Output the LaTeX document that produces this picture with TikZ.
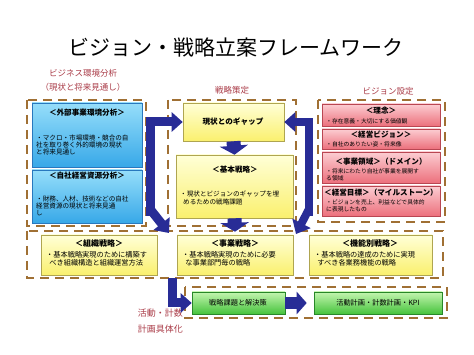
\documentclass[tikz,border=0pt]{standalone}
\usepackage{fontspec}
\setmainfont{Noto Sans CJK JP}
\usetikzlibrary{arrows.meta,calc,fit}
\definecolor{navy}{RGB}{40,44,150}
\definecolor{dashbrown}{RGB}{160,112,52}
\definecolor{lblred}{RGB}{170,60,72}
\definecolor{bluetop}{RGB}{150,222,250}
\definecolor{bluebot}{RGB}{55,168,232}
\definecolor{bluedraw}{RGB}{40,120,190}
\definecolor{pinktop}{RGB}{252,205,210}
\definecolor{pinkbot}{RGB}{236,112,124}
\definecolor{pinkdraw}{RGB}{185,70,82}
\definecolor{yeltop}{RGB}{255,255,215}
\definecolor{yelbot}{RGB}{250,240,110}
\definecolor{yeldraw}{RGB}{175,165,80}
\definecolor{grntop}{RGB}{195,245,175}
\definecolor{grnbot}{RGB}{70,195,60}
\definecolor{grndraw}{RGB}{40,135,40}
\tikzset{
  box/.style={rectangle, line width=0.6pt, inner sep=0pt},
  bluebox/.style={box, draw=bluedraw, top color=bluetop, bottom color=bluebot},
  pinkbox/.style={box, draw=pinkdraw, top color=pinktop, bottom color=pinkbot},
  yelbox/.style={box, draw=yeldraw, top color=yeltop, bottom color=yelbot},
  grnbox/.style={box, draw=grndraw, top color=grntop, bottom color=grnbot},
  ttl/.style={inner sep=0pt, font=\fontsize{7.6}{8}\selectfont\bfseries},
  bigttl/.style={inner sep=0pt, font=\fontsize{8}{8.5}\selectfont\bfseries},
  body/.style={inner sep=0pt, anchor=west, align=left, font=\fontsize{6.6}{7.1}\selectfont},
  bigbody/.style={inner sep=0pt, anchor=west, align=left, font=\fontsize{7.2}{7.5}\selectfont},
  smallbody/.style={inner sep=0pt, anchor=west, align=left, font=\fontsize{5.8}{6.5}\selectfont},
  lbl/.style={inner sep=0pt, text=lblred, font=\fontsize{8.5}{13}\selectfont},
  dbox/.style={draw=dashbrown, line width=2.4pt, dash pattern=on 9pt off 6pt},
  navyarrow/.style={draw=navy, line width=9pt, -{Triangle[width=19pt,length=11pt]}},
  fatarrow/.style={draw=navy, line width=14pt, -{Triangle[width=28pt,length=9pt]}},
}
\begin{document}
\begin{tikzpicture}[x=1pt,y=-1pt]
\useasboundingbox (0,0) rectangle (474,355);
\fill[white] (0,0) rectangle (474,355);

\node[inner sep=0pt, font=\fontsize{21}{21}\selectfont] (title) at (236,47) {ビジョン・戦略立案フレームワーク};

% section labels
\node[lbl] (lblA) at (83,73) {ビジネス環境分析};
\node[lbl] (lblB) at (83,87) {（現状と将来見通し）};
\node[lbl] (lblC) at (232,90) {戦略策定};
\node[lbl] (lblD) at (388,91) {ビジョン設定};
\node[lbl, align=right, anchor=north east, font=\fontsize{9}{16}\selectfont] (lblE) at (183,309) {活動・計数\\計画具体化};

% dashed groups
\draw[dbox] (27,100) rectangle (146,226);
\draw[dbox] (168,100) rectangle (296,226);
\draw[dbox] (318,100) rectangle (445,222);
\draw[dbox] (27,231) rectangle (443,278);
\draw[dbox] (185,287) rectangle (447,318);

% left: environment analysis
\node[bluebox, fit={(32,103) (142,167)}] (ext) {};
\node[ttl] (extT) at (87,113) {＜外部事業環境分析＞};
\node[body] (extB) at (36,145) {・マクロ・市場環境・競合の自\\社を取り巻く外的環境の現状\\と将来見通し};
\node[bluebox, fit={(32,170) (142,223)}] (res) {};
\node[ttl] (resT) at (87,176) {＜自社経営資源分析＞};
\node[body] (resB) at (36,206) {・財務、人材、技術などの自社\\経営資源の現状と将来見通\\し};

% center: strategy
\node[yelbox, fit={(183,103) (284,141)}] (gap) {};
\node[ttl] (gapT) at (233,122) {現状とのギャップ};
\node[yelbox, fit={(176,155) (293,218)}] (basic) {};
\node[ttl] (basicT) at (235,170) {＜基本戦略＞};
\node[body] (basicB) at (180,198) {・現状とビジョンのギャップを埋\\\ \ めるための戦略課題};

% right: vision
\node[pinkbox, fit={(322,104) (440,126)}] (p1) {};
\node[ttl] (p1T) at (381,111) {＜理念＞};
\node[smallbody] (p1B) at (326,121) {・存在意義・大切にする価値観};
\node[pinkbox, fit={(322,129) (440,149)}] (p2) {};
\node[ttl] (p2T) at (381,135) {＜経営ビジョン＞};
\node[smallbody] (p2B) at (326,144) {・自社のありたい姿・将来像};
\node[pinkbox, fit={(322,152) (440,183)}] (p3) {};
\node[ttl] (p3T) at (381,162) {＜事業領域＞（ドメイン）};
\node[smallbody] (p3B) at (326,175) {・将来にわたり自社が事業を展開す\\る領域};
\node[pinkbox, fit={(322,186) (440,216)}] (p4) {};
\node[ttl] (p4T) at (381,193) {＜経営目標＞（マイルストーン）};
\node[smallbody] (p4B) at (326,206) {・ビジョンを売上、利益などで具体的\\に表現したもの};

% bottom row strategies
\node[yelbox, fit={(41,235) (157,275)}] (org) {};
\node[bigttl] (orgT) at (99,243) {＜組織戦略＞};
\node[bigbody] (orgB) at (46,259) {・基本戦略実現のために構築す\\\ \ べき組織構造と組織運営方法};
\node[yelbox, fit={(177,235) (293,275)}] (biz) {};
\node[bigttl] (bizT) at (235,243) {＜事業戦略＞};
\node[bigbody] (bizB) at (182,259) {・基本戦略実現のために必要\\\ \ な事業部門毎の戦略};
\node[yelbox, fit={(309,235) (432,275)}] (func) {};
\node[bigttl] (funcT) at (370,243) {＜機能別戦略＞};
\node[bigbody] (funcB) at (314,259) {・基本戦略の達成のために実現\\\ \ すべき各業務機能の戦略};

% green plan boxes
\node[grnbox, fit={(192,292) (285,314)}] (plan1) {};
\node[ttl, font=\fontsize{7.2}{8}\selectfont] (plan1T) at (238,303) {戦略課題と解決策};
\node[grnbox, fit={(314,292) (442,314)}] (plan2) {};
\node[ttl, font=\fontsize{7.2}{8}\selectfont] (plan2T) at (378,303) {活動計画・計数計画・KPI};

% coordinates for arrows
\coordinate (lbar) at (150,216);
\coordinate (lbarlow) at (150,209);
\coordinate (ltip) at (169,233);
\coordinate (rbar) at (309,216);
\coordinate (rbarlow) at (309,209);
\coordinate (rtip) at (296,234);
\coordinate (bstart) at (172,278);

% navy arrows
\draw[navyarrow] (lbar) |- (gap.west);
\draw[navyarrow, -{Triangle[width=20pt,length=12pt]}] (lbarlow) -- (ltip);
\draw[navyarrow, line width=8pt] (rbar) |- (gap.east);
\draw[navyarrow, line width=8pt, -{Triangle[width=20pt,length=12pt]}] (rbarlow) -- (rtip);
\draw[fatarrow] (gap.south) -- (basic.north);
\draw[fatarrow] (basic.south) -- ($(biz.north)+(0,-3)$);
\draw[navyarrow] (bstart) |- (plan1.west);
\draw[navyarrow, line width=12pt, -{Triangle[width=22pt,length=10pt]}] (plan1.east) -- ($(plan2.west)+(-7,0)$);
\end{tikzpicture}
\end{document}
